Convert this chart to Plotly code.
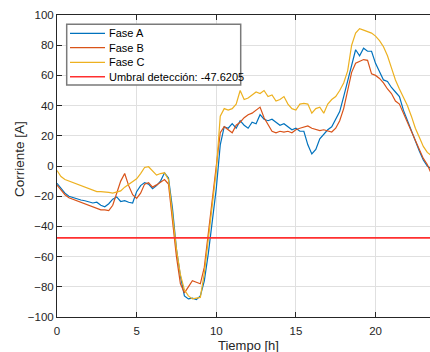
import numpy as np
import plotly.graph_objects as go

t = [i * 0.25 for i in range(95)]

fase_a = [-11.5, -15, -18, -20, -21, -21.5, -22.5, -23, -23.5, -24.5, -24, -26, -27, -25, -22, -20.5,
          -23.5, -23, -24, -24.5, -17, -13, -11, -12, -15, -13, -10, -4.5, -8, -28,
          -55, -73, -86, -88, -87.5, -88.5, -86, -76, -58, -38, -15, 14, 26, 25, 28,
          25, 30, 27, 25, 29, 28, 34, 31, 30, 31, 29, 27, 28, 26, 24,
          25, 23, 23, 14, 8, 11, 18, 21, 24, 26, 31, 36, 46, 57, 68,
          77, 73, 78, 76, 76, 68, 62, 57, 56, 52, 49, 46, 37, 30, 23,
          16, 10, 4, 0, -2]

fase_b = [-12.6, -16, -19, -21, -22, -23.5, -24.5, -25.5, -26, -27.5, -28, -29, -29, -29.5, -26, -18,
          -10, -5, -13, -19, -21.5, -18, -12, -11, -14, -12.5, -11, -9, -12, -35,
          -60, -78, -84, -80, -76, -77, -78, -67, -46, -24, 0, 22, 26, 24, 22,
          27, 29, 32, 34, 35, 37, 39, 32, 27, 23, 22, 23, 22.5, 23, 22,
          24, 25, 26, 26.5, 25, 24, 23.5, 24, 23.5, 22.5, 25, 30, 38, 50, 62,
          68, 69, 70.5, 70, 61, 60, 58, 55, 51, 48, 43, 41, 35, 29, 22,
          16, 10, 5, 1, -5]

fase_c = [-3, -7, -9, -10, -11, -12, -13.5, -14, -15, -16, -17, -17, -17.5, -17.5, -18, -17.5,
          -16.5, -14, -12, -10.5, -8.5, -5, -1, -0.5, -3, -6, -5, -4.5, -9, -33,
          -55, -72, -82, -86, -88, -87.5, -87, -71, -50, -26, -3, 33, 38, 37, 38,
          41, 50, 44, 45, 47, 49, 48, 50, 46, 47, 43, 44, 46, 41, 38,
          37, 41, 41.5, 41, 35, 38, 39, 35, 41, 44, 46, 50, 55, 63, 80,
          88, 91, 90, 89, 88, 86, 83, 79, 73, 65, 57, 51, 46, 40, 33,
          25, 19, 13, 9, 7]

umbral = -47.6205
x_ticks = [0, 5, 10, 15, 20]
y_ticks = list(range(-100, 101, 20))

names = ["Fase A", "Fase B", "Fase C", f"Umbral detección: {umbral}"]
colors = ["#0072BD", "#D95319", "#EDB120", "#FF3030"]
widths = [1.2, 1.2, 1.2, 1.6]

W, H = 430, 352
L, R, T, B = 57, 0, 15, 35
PW, PH = W - L - R, H - T - B


def px(xp):
    return (xp - L) / PW


def py(yp):
    return (H - B - yp) / PH


fig = go.Figure()
for yv, nm, c, w in zip([fase_a, fase_b, fase_c], names[:3], colors[:3], widths[:3]):
    fig.add_trace(go.Scatter(x=t, y=yv, mode="lines", name=nm,
                             line=dict(color=c, width=w), showlegend=False))
fig.add_trace(go.Scatter(x=[0, 23.5], y=[umbral, umbral], mode="lines", name=names[3],
                         line=dict(color=colors[3], width=widths[3]), showlegend=False))

# legend box drawn by hand (MATLAB-like compact legend)
shapes = [dict(type="rect", xref="paper", yref="paper",
               x0=px(66.7), x1=px(240.7), y0=py(85), y1=py(24.3),
               line=dict(color="#7a7a7a", width=1.5), fillcolor="white", layer="above")]
annotations = []
row_y = [33.3, 47.7, 62.3, 76.7]
for ry, nm, c, w in zip(row_y, names, colors, widths):
    shapes.append(dict(type="line", xref="paper", yref="paper",
                       x0=px(70), x1=px(105), y0=py(ry), y1=py(ry),
                       line=dict(color=c, width=w), layer="above"))
    annotations.append(dict(text=nm, xref="paper", yref="paper", x=px(106.5), y=py(ry),
                            xanchor="left", yanchor="middle", showarrow=False,
                            font=dict(family="Liberation Sans, Arial", size=11, color="#000000")))

axis_font = dict(family="Liberation Sans, Arial", size=11.5, color="#262626")
annotations.append(dict(text="Tiempo [h]", xref="paper", yref="paper", x=px(248), y=py(345),
                        xanchor="center", yanchor="middle", showarrow=False,
                        font=dict(family="Liberation Sans, Arial", size=13, color="#262626")))
annotations.append(dict(text="Corriente [A]", xref="paper", yref="paper", x=px(19), y=py(159),
                        xanchor="center", yanchor="middle", showarrow=False, textangle=-90,
                        font=dict(family="Liberation Sans, Arial", size=13.5, color="#262626")))

fig.update_layout(
    width=W, height=H,
    margin=dict(l=L, r=R, t=T, b=B),
    paper_bgcolor="white", plot_bgcolor="white",
    font=axis_font,
    showlegend=False,
    shapes=shapes,
    annotations=annotations,
    xaxis=dict(range=[0, 23.42], tickvals=x_ticks, showgrid=True, gridcolor="#E0E0E0",
               zeroline=False, showline=True, linecolor="#262626", linewidth=1,
               mirror="ticks", ticks="inside", ticklen=5, tickcolor="#262626",
               ticklabelstandoff=3, tickfont=axis_font),
    yaxis=dict(range=[-100, 100], tickvals=y_ticks, showgrid=True, gridcolor="#E0E0E0",
               zeroline=False, showline=True, linecolor="#262626", linewidth=1,
               ticks="inside", ticklen=5, tickcolor="#262626", tickfont=axis_font),
)

fig.write_html("out.html")
